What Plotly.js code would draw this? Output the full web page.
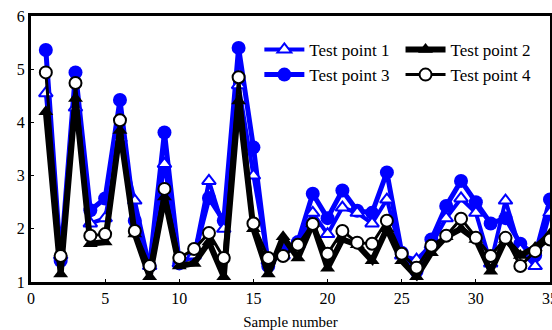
<!DOCTYPE html>
<html><head><meta charset="utf-8">
<script src="https://cdn.plot.ly/plotly-3.0.1.min.js"></script>
<style>html,body{margin:0;padding:0;background:#fff}#c{width:552px;height:330px}</style>
</head><body><div id="c"></div>
<script>
const samples = Array.from({length:35},(_,i)=>i+1);
const tp1 = [4.55,1.5,4.28,2.1,2.2,3.7,2.53,1.3,3.22,1.35,1.5,2.9,2.0,4.7,3.0,1.4,1.5,1.7,2.3,1.9,2.4,2.3,2.1,2.55,1.5,1.42,1.7,2.2,2.57,2.3,1.35,2.53,1.6,1.3,2.3];
const tp2 = [4.2,1.15,4.45,1.72,1.75,3.85,1.9,1.1,2.6,1.3,1.35,1.75,1.1,4.4,2.0,1.15,1.85,1.45,2.1,1.26,1.8,1.7,1.4,2.0,1.4,1.1,1.55,1.85,2.0,1.8,1.2,1.8,1.5,1.65,1.9];
const tp3 = [5.36,1.4,4.94,2.35,2.57,4.42,2.15,1.3,3.81,1.35,1.5,2.58,2.15,5.4,3.53,1.3,1.6,1.75,2.66,2.2,2.72,2.34,2.3,3.06,1.55,1.2,1.8,2.43,2.9,2.5,2.1,2.2,1.72,1.5,2.55];
const tp4 = [4.94,1.49,4.74,1.87,1.9,4.04,1.96,1.3,2.75,1.45,1.62,1.92,1.45,4.85,2.1,1.45,1.49,1.7,2.09,1.53,1.96,1.74,1.72,2.15,1.53,1.27,1.68,1.87,2.19,1.83,1.49,1.83,1.3,1.58,1.8];
const names = ["Test point 1","Test point 2","Test point 3","Test point 4"];

const blue = "#0000ff";
const traces = [
  {x:samples,y:tp3,name:names[2],legend:"legend",legendrank:2,mode:"lines+markers",
   line:{color:blue,width:5},marker:{symbol:"circle",size:14,color:blue}},
  {x:samples,y:tp1,name:names[0],legend:"legend",legendrank:1,mode:"lines+markers",
   line:{color:blue,width:4},marker:{symbol:"triangle-up",size:12,color:"#fff",line:{color:blue,width:2}}},
  {x:samples,y:tp2,name:names[1],legend:"legend2",legendrank:1,mode:"lines+markers",
   line:{color:"#000",width:6},marker:{symbol:"triangle-up",size:13,color:"#000"}},
  {x:samples,y:tp4,name:names[3],legend:"legend2",legendrank:2,mode:"lines+markers",
   line:{color:"#000",width:3},marker:{symbol:"circle",size:12,color:"#fff",line:{color:"#000",width:2}}}
];
const font = {family:"Liberation Serif, Times New Roman, serif",size:16,color:"#000"};
const lfont = {family:font.family,size:17,color:"#000"};
const layout = {
  width:552,height:330,
  margin:{l:31,r:2,t:16,b:48},
  paper_bgcolor:"#fff",plot_bgcolor:"#fff",
  font:font,
  showlegend:true,
  xaxis:{range:[0,35],tickvals:[0,5,10,15,20,25,30,35],showgrid:false,zeroline:false,
    showline:true,mirror:true,linecolor:"#000",linewidth:3,ticks:"inside",ticklen:3,tickcolor:"#000",
    ticklabeloverflow:"allow",
    tickfont:font,title:{text:"Sample number",font:{family:font.family,size:15,color:"#000"},standoff:12}},
  yaxis:{range:[1,6],tickvals:[1,2,3,4,5,6],showgrid:false,zeroline:false,
    showline:true,mirror:true,linecolor:"#000",linewidth:3,ticks:"inside",ticklen:3,tickcolor:"#000",
    tickfont:font},
  legend:{x:0.44,y:0.94,xanchor:"left",yanchor:"top",bgcolor:"rgba(255,255,255,0.8)",
    font:lfont,tracegroupgap:0,itemwidth:40,borderwidth:0,traceorder:"normal"},
  legend2:{x:0.712,y:0.94,xanchor:"left",yanchor:"top",bgcolor:"rgba(255,255,255,0.8)",
    font:lfont,tracegroupgap:0,itemwidth:40,borderwidth:0,traceorder:"normal"}
};
Plotly.newPlot("c",traces,layout,{displayModeBar:false,staticPlot:true});
</script>
</body></html>
